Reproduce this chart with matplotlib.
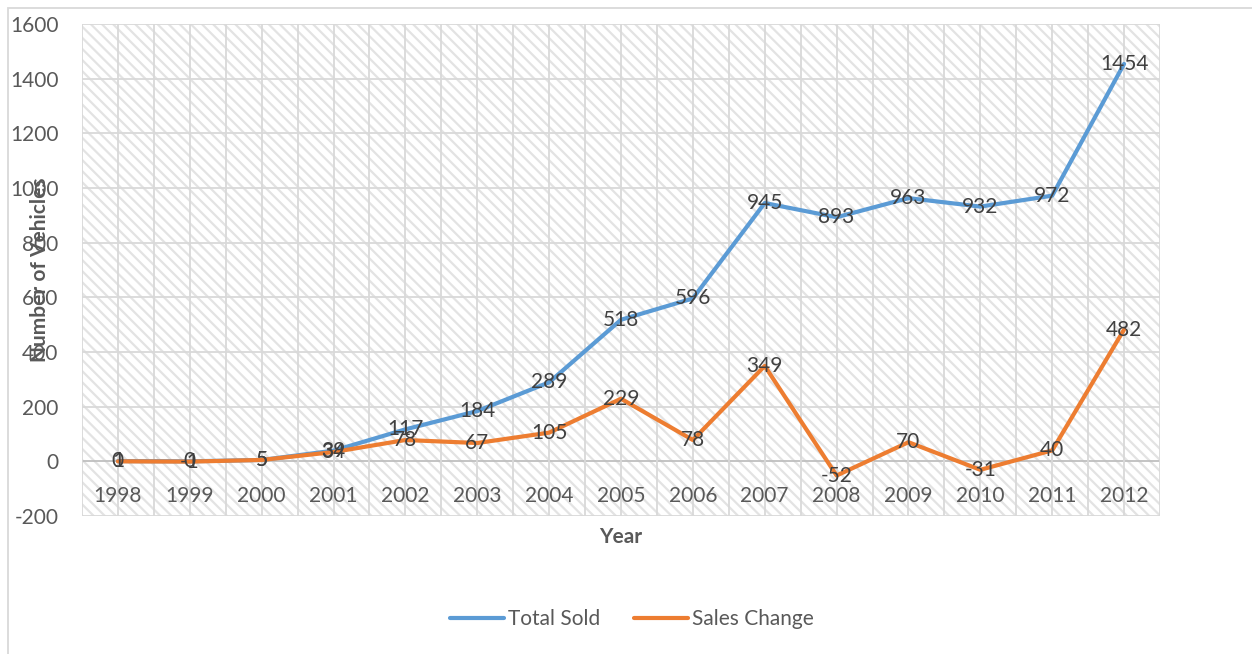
import matplotlib.pyplot as plt
from matplotlib.patches import Rectangle

years = ['1998', '1999', '2000', '2001', '2002', '2003', '2004', '2005',
         '2006', '2007', '2008', '2009', '2010', '2011', '2012']
total_sold = [1, 0, 5, 39, 117, 184, 289, 518, 596, 945, 893, 963, 932, 972, 1454]
sales_change = [0, -1, 5, 34, 78, 67, 105, 229, 78, 349, -52, 70, -31, 40, 482]

plt.rcParams['font.family'] = ['Lato', 'DejaVu Sans']
plt.rcParams['axes.unicode_minus'] = False
plt.rcParams['hatch.linewidth'] = 1.6
plt.rcParams['hatch.color'] = '#e3e3e3'

blue = '#5b9bd5'
orange = '#ed7d31'
grid = '#d9d9d9'

fig = plt.figure(figsize=(12.52, 6.54), dpi=100)
ax = fig.add_axes([82 / 1252, 1 - 516 / 654, (1160 - 82) / 1252, (516 - 24) / 654])

x = list(range(len(years)))
ax.set_xlim(-0.5, len(years) - 0.5)
ax.set_ylim(-200, 1600)

# hatched plot area background
ax.add_patch(Rectangle((0, 0), 1, 1, transform=ax.transAxes, facecolor='white',
                       edgecolor='#e3e3e3', hatch='\\\\\\', lw=0, zorder=0))

for yv in range(-200, 1601, 200):
    ax.axhline(yv, color='#bfbfbf' if yv == 0 else grid, lw=1.3, zorder=1)
for xv in [i * 0.5 - 0.5 for i in range(2 * len(years) + 1)]:
    ax.axvline(xv, color=grid, lw=1.3, zorder=1)

ax.plot(x, total_sold, color=blue, lw=3, solid_capstyle='round', zorder=3, label='Total Sold')
ax.plot(x, sales_change, color=orange, lw=3, solid_capstyle='round', zorder=3, label='Sales Change')

for xi, v in zip(x, total_sold):
    ax.text(xi, v, str(v), ha='center', va='center', fontsize=15, color='#404040', zorder=4)
for xi, v in zip(x, sales_change):
    ax.text(xi, v, str(v), ha='center', va='center', fontsize=15, color='#404040', zorder=4)

for s in ax.spines.values():
    s.set_visible(False)
ax.set_yticks(range(-200, 1601, 200))
ax.tick_params(axis='y', length=0, labelsize=15, labelcolor='#595959', pad=17)
ax.set_xticks(x)
ax.set_xticklabels(years)
ax.spines['bottom'].set_position(('data', 0))
ax.tick_params(axis='x', length=0, labelsize=15, labelcolor='#595959', pad=18)

fig.text(40 / 1252, 1 - 270 / 654, 'Number of Vehicles', rotation=90, ha='center', va='center',
         fontsize=15, fontweight='bold', color='#595959')
fig.text(621 / 1252, 1 - 537 / 654, 'Year', ha='center', va='center',
         fontsize=15, fontweight='bold', color='#595959')

fig.legend(loc='center', bbox_to_anchor=(632 / 1252, 1 - 619 / 654), ncol=2, frameon=False,
           fontsize=15, labelcolor='#595959', handlelength=2.6, columnspacing=1.6, handletextpad=0.2)

fig.patches.append(Rectangle((8 / 1252, -0.1), 1.2, 1 - 8 / 654 + 0.1, transform=fig.transFigure,
                             fill=False, edgecolor='#d9d9d9', lw=1.3))

plt.savefig('out.png')
